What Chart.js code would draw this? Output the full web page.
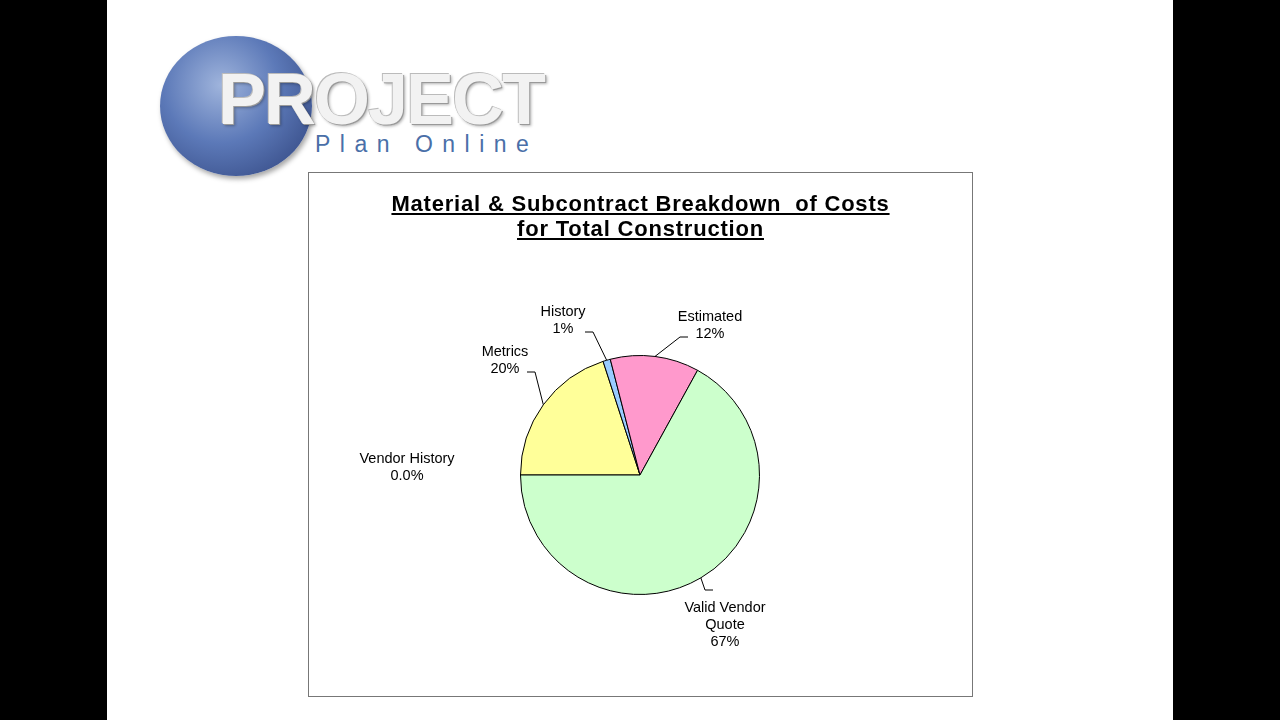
<!DOCTYPE html>
<html>
<head>
<meta charset="utf-8">
<script src="https://cdn.jsdelivr.net/npm/chart.js@4"></script>
<style>
  body { margin:0; background:#000; font-family: "Liberation Sans", Arial, sans-serif; }
  #slide { position:absolute; left:107px; top:0; width:1066px; height:720px; background:#fff; }
  #logo-ball { position:absolute; left:160px; top:36px; width:152px; height:140px; border-radius:50%;
    background: radial-gradient(circle at 40% 35%, #9fb4dc 0%, #5c79b8 45%, #2c3f78 100%);
    box-shadow: 2px 3px 5px rgba(0,0,0,0.35); }
  #logo-word { position:absolute; left:218px; top:58px; font-size:72px; font-weight:bold; color:#f2f2f2;
    letter-spacing:-2px; text-shadow: 1px 1px 0 #999, -1px -1px 0 #bbb, 2px 2px 3px rgba(0,0,0,0.3); }
  #logo-sub { position:absolute; left:315px; top:131px; font-size:23px; color:#4a6fa8; letter-spacing:9.5px; }
  #box { position:absolute; left:308px; top:172px; width:663px; height:523px; border:1px solid #777; background:#fff; }
  #title { position:absolute; left:0; width:663px; top:18px; text-align:center; font-size:22px; font-weight:bold;
    line-height:25px; letter-spacing:0.8px; text-decoration:underline; color:#000; }
  #chart { position:absolute; left:0; top:0; }
</style>
</head>
<body>
<div id="slide"></div>
<div id="logo-ball"></div>
<div id="logo-word">PROJECT</div>
<div id="logo-sub">Plan Online</div>
<div id="box">
  <canvas id="chart" width="663" height="523"></canvas>
  <div id="title">Material &amp; Subcontract Breakdown&nbsp; of Costs<br>for Total Construction</div>
</div>
<script>
var categories = ['Vendor History', 'Metrics', 'History', 'Estimated', 'Valid Vendor Quote'];
var values = [0.0, 20, 1, 12, 67];
var valueLabels = ['0.0%', '20%', '1%', '12%', '67%'];
var colors = ['#ffffff', '#ffff99', '#99ccff', '#ff99cc', '#ccffcc'];

// label placement: [text dx, text dy from pie centre, draw leader]
var labelPlace = [[-233, -8, false], [-135, -115, true], [-77, -155, true], [70, -150, true], [85, 150, true]];

var labelPlugin = {
  id: 'pieLabels',
  afterDraw: function(chart) {
    var ctx = chart.ctx;
    var arcs = chart.getDatasetMeta(0).data;
    ctx.save();
    ctx.font = '14.5px "Liberation Sans", Arial, sans-serif';
    ctx.fillStyle = '#000';
    ctx.strokeStyle = '#000';
    ctx.lineWidth = 1;
    ctx.textAlign = 'center';
    ctx.textBaseline = 'middle';
    arcs.forEach(function(arc, i) {
      var cx = arc.x, cy = arc.y, r = arc.outerRadius;
      var mid = (arc.startAngle + arc.endAngle) / 2;
      var p = labelPlace[i];
      var tx = cx + p[0], ty = cy + p[1];
      var lines = categories[i] === 'Valid Vendor Quote' ? ['Valid Vendor', 'Quote', valueLabels[i]] : [categories[i], valueLabels[i]];
      var h = 17;
      var y0 = ty - (lines.length - 1) * h / 2;
      lines.forEach(function(t, k) { ctx.fillText(t, tx, y0 + k * h); });
      if (p[2]) {
        var ex = cx + Math.cos(mid) * r, ey = cy + Math.sin(mid) * r;
        var up = p[1] < 0;
        var ly = up ? ty + 12 : ty - 28;
        var lx = p[0] < 0 ? tx + 30 : tx - 30;
        if (categories[i] === 'Valid Vendor Quote') { lx = tx - 20; ly = ty - 35; }
        ctx.beginPath();
        ctx.moveTo(ex, ey);
        ctx.lineTo(lx, ly);
        ctx.lineTo(lx + (p[0] < 0 ? -8 : 8), ly);
        ctx.stroke();
      }
    });
    ctx.restore();
  }
};

new Chart(document.getElementById('chart'), {
  type: 'pie',
  data: {
    labels: categories,
    datasets: [{
      data: values,
      backgroundColor: colors,
      borderColor: '#000',
      borderWidth: 1
    }]
  },
  options: {
    responsive: false,
    animation: false,
    rotation: -90,
    layout: { padding: { top: 182, bottom: 101, left: 209, right: 210 } },
    plugins: { legend: { display: false }, tooltip: { enabled: false } }
  },
  plugins: [labelPlugin]
});
</script>
</body>
</html>
